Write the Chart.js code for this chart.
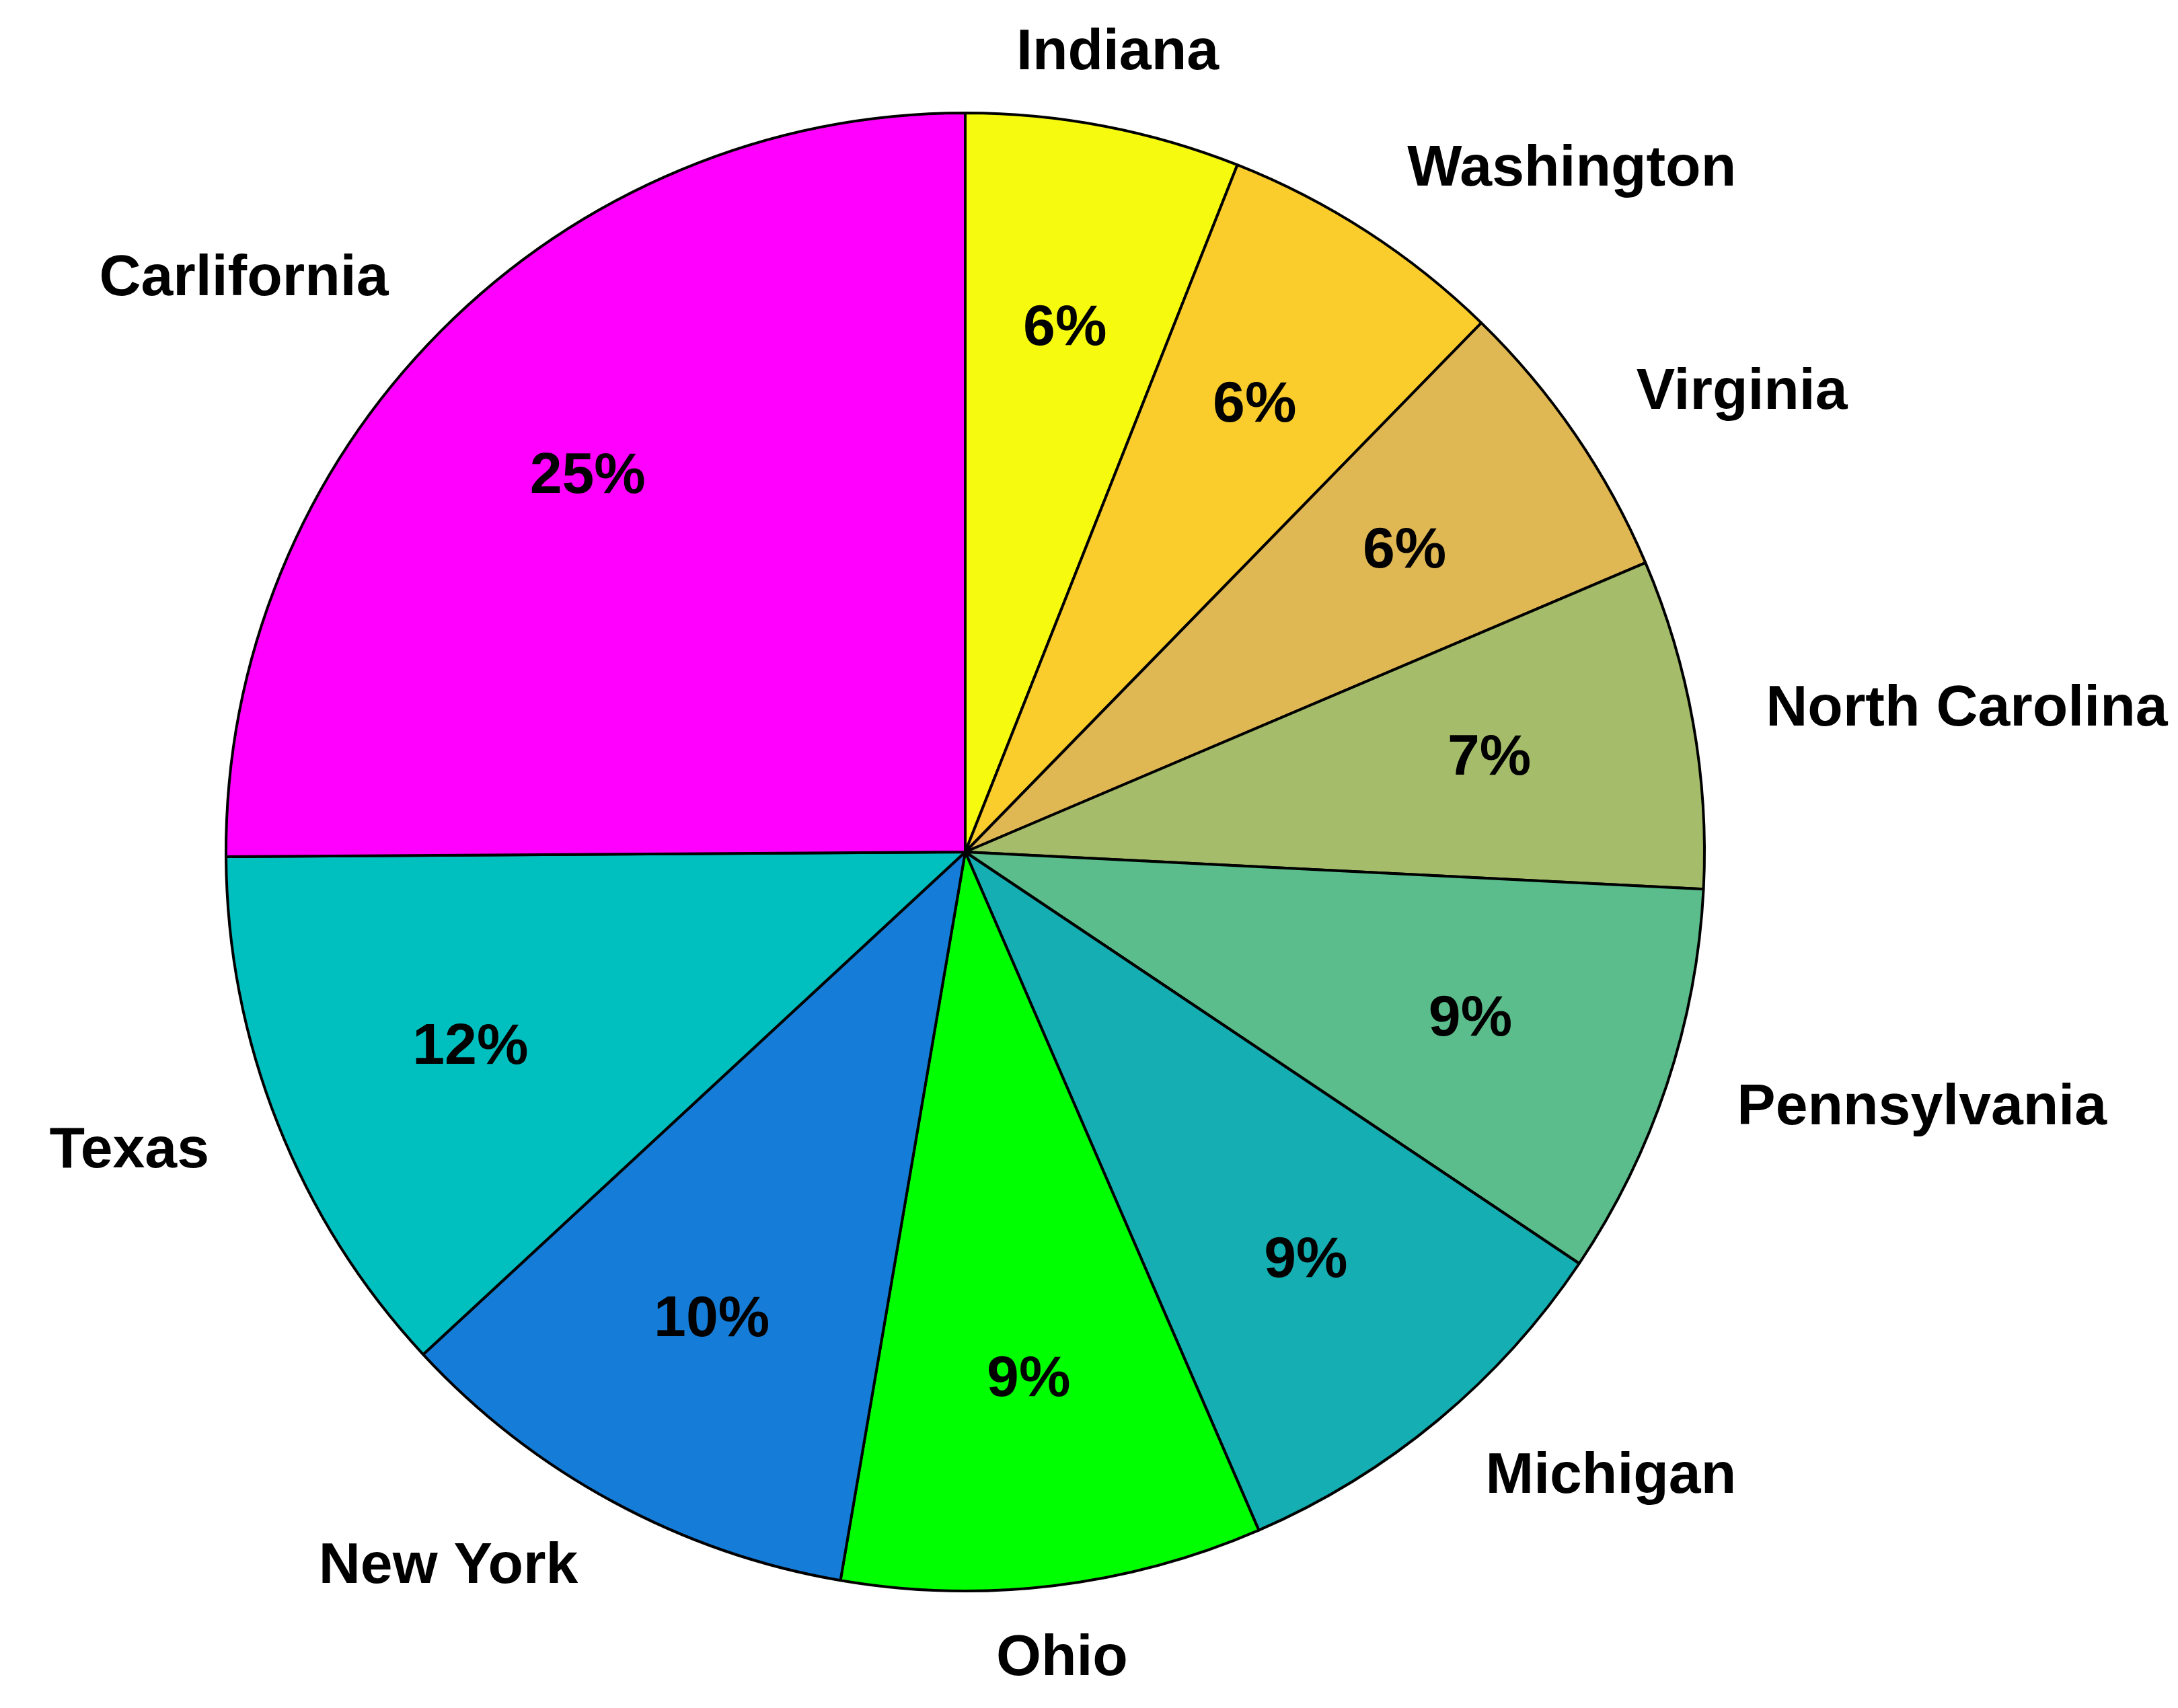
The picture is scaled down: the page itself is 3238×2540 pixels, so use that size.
<!DOCTYPE html>
<html>
<head>
<meta charset="utf-8">
<script src="https://cdn.jsdelivr.net/npm/chart.js@4/dist/chart.umd.min.js"></script>
<style>
  html, body { margin: 0; padding: 0; background: #ffffff; }
  #c { display: block; }
</style>
</head>
<body>
<canvas id="c" width="3238" height="2540"></canvas>
<script>
// Data (clockwise from 12 o'clock)
const states = ["Indiana", "Washington", "Virginia", "North Carolina", "Pennsylvania",
                "Michigan", "Ohio", "New York", "Texas", "Carlifornia"];
const shares = [6.0, 6.3, 6.3, 7.2, 8.6, 9.1, 9.2, 10.4, 11.8, 25.1];
const sliceColors = ["#f6fa0f", "#facd2d", "#e0b853", "#a5bd6a", "#5abd8b",
                     "#15aeb2", "#00ff00", "#157dd7", "#00bfbf", "#ff00ff"];

const FONT = "bold 86px 'Liberation Sans', Arial, sans-serif";

const pieLabels = {
  id: 'pieLabels',
  afterDatasetsDraw(chart) {
    const ctx = chart.ctx;
    const meta = chart.getDatasetMeta(0);
    const data = chart.data.datasets[0].data;
    const total = data.reduce((a, b) => a + b, 0);
    ctx.save();
    ctx.font = FONT;
    ctx.fillStyle = '#000000';
    ctx.textBaseline = 'middle';
    meta.data.forEach((arc, i) => {
      const p = arc.getProps(['x', 'y', 'startAngle', 'endAngle', 'outerRadius'], true);
      const mid = (p.startAngle + p.endAngle) / 2;
      const c = Math.cos(mid), s = Math.sin(mid);
      // percentage inside
      const pr = p.outerRadius * 0.72;
      ctx.textAlign = 'center';
      ctx.fillText(Math.round(data[i] / total * 100) + '%', p.x + c * pr, p.y + s * pr);
      // category label outside
      const lr = p.outerRadius * 1.1;
      const lx = p.x + c * lr, ly = p.y + s * lr;
      if (Math.abs(c) < 0.2) ctx.textAlign = 'center';
      else ctx.textAlign = c > 0 ? 'left' : 'right';
      ctx.fillText(chart.data.labels[i], lx, ly);
    });
    ctx.restore();
  }
};

new Chart(document.getElementById('c'), {
  type: 'pie',
  data: {
    labels: states,
    datasets: [{
      data: shares,
      backgroundColor: sliceColors,
      borderColor: '#000000',
      borderWidth: 4,
      hoverOffset: 0
    }]
  },
  options: {
    responsive: false,
    animation: false,
    rotation: 0,
    layout: { padding: { left: 334, top: 164, right: 702, bottom: 170 } },
    plugins: {
      legend: { display: false },
      tooltip: { enabled: false },
      title: { display: false }
    }
  },
  plugins: [pieLabels]
});
</script>
</body>
</html>
